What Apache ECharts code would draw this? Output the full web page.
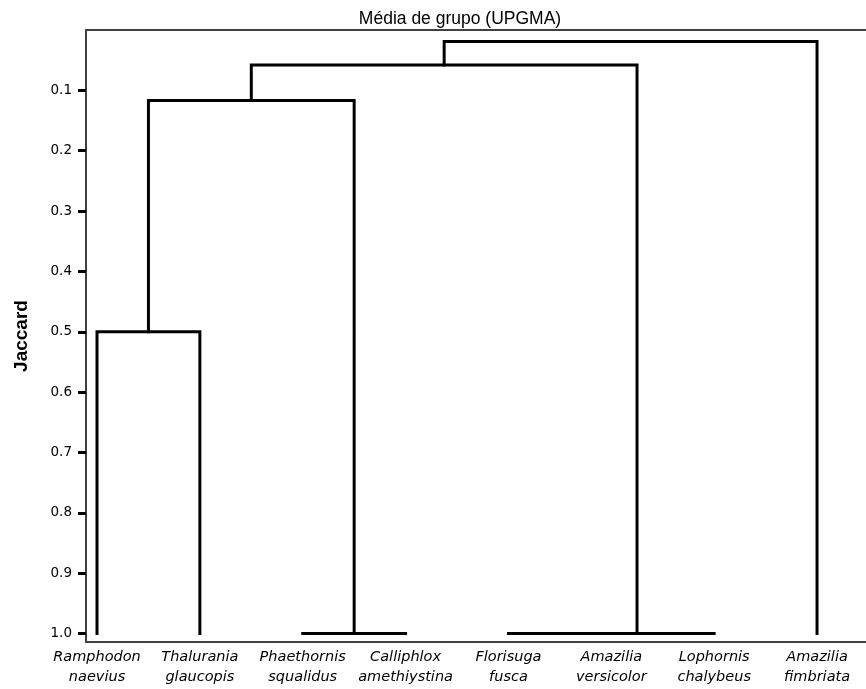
<!DOCTYPE html>
<html>
<head>
<meta charset="utf-8">
<script src="https://cdn.jsdelivr.net/npm/echarts@6/dist/echarts.min.js"></script>
<style>
html,body{margin:0;padding:0;background:#fff;}
#chart{width:866px;height:689px;}
</style>
</head>
<body>
<div id="chart"></div>
<script>
// Leaves (species), left to right
const leafNames = [
  'Ramphodon naevius',
  'Thalurania glaucopis',
  'Phaethornis squalidus',
  'Calliphlox amethiystina',
  'Florisuga fusca',
  'Amazilia versicolor',
  'Lophornis chalybeus',
  'Amazilia fimbriata'
];
// Merge steps: [left node, right node, Jaccard height]; new nodes get ids 8, 9, ...
const mergeLeft   = [0, 2, 8, 4, 11, 10, 13];
const mergeRight  = [1, 3, 9, 5, 6, 12, 7];
const mergeHeight = [0.5, 1.0, 0.117, 1.0, 1.0, 0.058, 0.019];
const leafHeight = 1.0;
const yTickValues = [0.1, 0.2, 0.3, 0.4, 0.5, 0.6, 0.7, 0.8, 0.9, 1.0];

const nodeX = leafNames.map((_, i) => i);
const nodeH = leafNames.map(() => leafHeight);
const series = [];
for (let k = 0; k < mergeLeft.length; k++) {
  const a = mergeLeft[k], b = mergeRight[k], h = mergeHeight[k];
  nodeX.push((nodeX[a] + nodeX[b]) / 2);
  nodeH.push(h);
  series.push({
    type: 'line',
    symbol: 'none',
    silent: true,
    animation: false,
    lineStyle: { color: '#000', width: 3, cap: 'square', join: 'miter' },
    data: [[nodeX[a], nodeH[a]], [nodeX[a], h], [nodeX[b], h], [nodeX[b], nodeH[b]]]
  });
}

const frameLine = { show: true, onZero: false, lineStyle: { color: '#404040', width: 2 } };

const chart = echarts.init(document.getElementById('chart'), null, { renderer: 'canvas' });
chart.setOption({
  backgroundColor: '#fff',
  animation: false,
  title: {
    text: 'Média de grupo (UPGMA)',
    left: 455, textAlign: 'center', top: 5,
    textStyle: { fontFamily: 'Liberation Sans, Arial', fontSize: 17.5, fontWeight: 'normal', color: '#000' }
  },
  grid: { left: 86, top: 30, right: 0, bottom: 47, show: false },
  xAxis: [{
    type: 'value', min: -0.107, max: 7.476, position: 'bottom',
    splitLine: { show: false },
    axisLine: frameLine,
    axisTick: { show: false },
    axisLabel: {
      customValues: leafNames.map((_, i) => i),
      formatter: v => leafNames[Math.round(v)].replace(' ', '\n'),
      fontFamily: 'DejaVu Sans', fontStyle: 'italic', fontSize: 14.5,
      lineHeight: 20, margin: 5, color: '#000', verticalAlign: 'top'
    }
  }, {
    type: 'value', min: -0.107, max: 7.476, position: 'top',
    splitLine: { show: false },
    axisLine: frameLine,
    axisTick: { show: false },
    axisLabel: { show: false }
  }],
  yAxis: {
    type: 'value', inverse: true, min: 0, max: 1.014,
    name: 'Jaccard', nameLocation: 'middle', nameGap: 55, nameRotate: 90,
    nameTextStyle: { fontFamily: 'Liberation Sans, Arial', fontSize: 19, fontWeight: 'bold', color: '#000' },
    splitLine: { show: false },
    axisLine: frameLine,
    axisTick: { show: true, customValues: yTickValues, length: 8, lineStyle: { color: '#000', width: 3 } },
    axisLabel: {
      customValues: yTickValues,
      formatter: v => v.toFixed(1),
      fontFamily: 'DejaVu Sans', fontSize: 13.5, color: '#000', margin: 14
    }
  },
  series: series
});
</script>
</body>
</html>
